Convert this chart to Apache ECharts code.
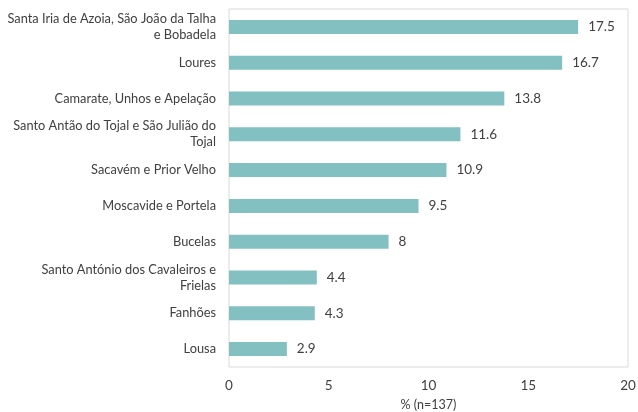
<!DOCTYPE html>
<html>
<head>
<meta charset="utf-8">
<script src="https://cdn.jsdelivr.net/npm/echarts@6/dist/echarts.min.js"></script>
<style>
  html, body { margin: 0; padding: 0; background: #fff; }
  #chart { width: 638px; height: 412px; }
</style>
</head>
<body>
<div id="chart"></div>
<script>
// categories listed bottom to top (ECharts category y axis starts at bottom)
const categories = [
  'Lousa',
  'Fanhões',
  'Santo António dos Cavaleiros e\nFrielas',
  'Bucelas',
  'Moscavide e Portela',
  'Sacavém e Prior Velho',
  'Santo Antão do Tojal e São Julião do\nTojal',
  'Camarate, Unhos e Apelação',
  'Loures',
  'Santa Iria de Azoia, São João da Talha\ne Bobadela'
]
const values = [2.9, 4.3, 4.4, 8, 9.5, 10.9, 11.6, 13.8, 16.7, 17.5]
const xTicks = [0, 5, 10, 15, 20]
const axisName = '% (n=137)'

const textColor = '#404040'
const fontFamily = 'Lato, "Open Sans", sans-serif'

const chart = echarts.init(document.getElementById('chart'))

const option = {
  animation: false,
  textStyle: { fontFamily: fontFamily },
  grid: {
    left: 229,
    right: 10,
    top: 9,
    bottom: 45,
    containLabel: false,
    outerBoundsMode: 'none',
    show: true,
    borderColor: '#d9d9d9',
    borderWidth: 1
  },
  xAxis: {
    type: 'value',
    min: xTicks[0],
    max: xTicks[xTicks.length - 1],
    interval: 5,
    name: axisName,
    nameLocation: 'middle',
    nameGap: 31,
    nameTextStyle: { color: textColor, fontSize: 12.5, fontFamily: fontFamily },
    axisLine: { show: false },
    axisTick: { show: false },
    splitLine: { show: false },
    axisLabel: { color: textColor, fontSize: 13.5, margin: 12, fontFamily: fontFamily }
  },
  yAxis: {
    type: 'category',
    data: categories,
    axisLine: { show: false },
    axisTick: { show: false },
    axisLabel: {
      color: textColor,
      fontSize: 12.8,
      margin: 13,
      lineHeight: 16,
      align: 'right',
      fontFamily: fontFamily
    }
  },
  series: [
    {
      type: 'bar',
      data: values,
      barWidth: 14,
      itemStyle: { color: '#83c0c1' },
      label: {
        show: true,
        position: 'right',
        distance: 10,
        color: textColor,
        fontSize: 13.5,
        fontFamily: fontFamily
      }
    }
  ]
}

chart.setOption(option)
window.addEventListener('resize', () => chart.resize())
</script>
</body>
</html>
